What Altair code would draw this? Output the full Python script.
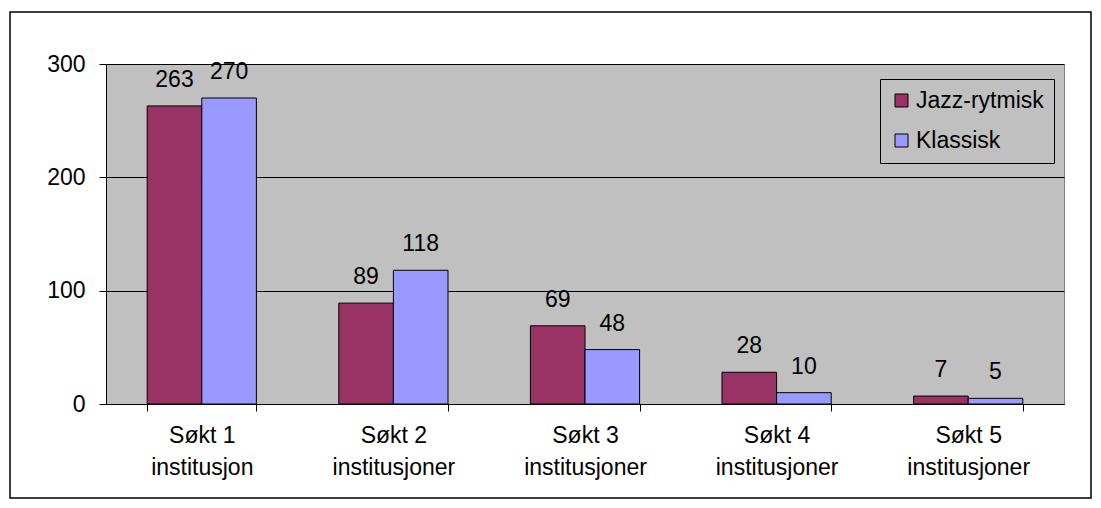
import altair as alt
import pandas as pd

categories = ["Søkt 1 institusjon", "Søkt 2 institusjoner", "Søkt 3 institusjoner",
              "Søkt 4 institusjoner", "Søkt 5 institusjoner"]
series = ["Jazz-rytmisk", "Klassisk"]
jazz = [263, 89, 69, 28, 7]
klassisk = [270, 118, 48, 10, 5]
colors = ["#993366", "#9999FF"]

rows = []
for c, j, k in zip(categories, jazz, klassisk):
    rows.append({"cat": c, "serie": series[0], "val": j})
    rows.append({"cat": c, "serie": series[1], "val": k})
df = pd.DataFrame(rows)

FONT = "Liberation Sans"
FS = 23

x = alt.X("cat:N", sort=categories, title=None,
          scale=alt.Scale(paddingInner=0.43, paddingOuter=0.215),
          axis=alt.Axis(labelAngle=0, tickBand="extent", labelExpr="[slice(datum.label,0,6), slice(datum.label,7)]",
                        labelFont=FONT, labelFontSize=FS, labelColor="black", labelLineHeight=32,
                        labelBaseline="top", labelPadding=13, tickSize=7, tickColor="black",
                        domainColor="black", grid=False))
xo = alt.XOffset("serie:N", sort=series, scale=alt.Scale(paddingInner=0, paddingOuter=0))
y = alt.Y("val:Q", title=None,
          scale=alt.Scale(domain=[0, 300], nice=False),
          axis=alt.Axis(values=[0, 100, 200, 300], labelFont=FONT, labelFontSize=FS, labelColor="black",
                        labelPadding=14, tickSize=7, tickColor="black", domainColor="black",
                        grid=True, gridColor="black", gridOpacity=1))

bars = alt.Chart(df).mark_bar(stroke="black", strokeWidth=1).encode(
    x=x, xOffset=xo, y=y,
    color=alt.Color("serie:N", sort=series, title=None,
                    scale=alt.Scale(domain=series, range=colors),
                    legend=alt.Legend(orient="none", legendX=774, legendY=15,
                                      strokeColor="black", padding=10,
                                      symbolType="square", symbolSize=169,
                                      symbolStrokeColor="black", symbolStrokeWidth=1,
                                      labelFont=FONT, labelFontSize=FS, labelColor="black",
                                      rowPadding=16, labelOffset=3, symbolOffset=0)),
)

labels = alt.Chart(df).mark_text(font=FONT, fontSize=FS, color="black",
                                 baseline="alphabetic", dy=-19).encode(
    x=x, xOffset=xo, y=y, text="val:Q")

frame = alt.Chart(pd.DataFrame({"a": [0]})).mark_rect(
    fill=None, stroke="black", strokeWidth=1.5).encode(
    x=alt.value(-96), x2=alt.value(985), y=alt.value(-52), y2=alt.value(434))

chart = alt.layer(bars, labels, frame).properties(
    width=958, height=340,
    background="white",
    autosize=alt.AutoSizeParams(type="none"),
    padding={"left": 98, "top": 56, "right": 28, "bottom": 100},
).configure_view(fill="#C0C0C0", stroke="#808080", strokeWidth=1)

chart.save("out.html", embed_options={"renderer": "svg", "actions": False})
